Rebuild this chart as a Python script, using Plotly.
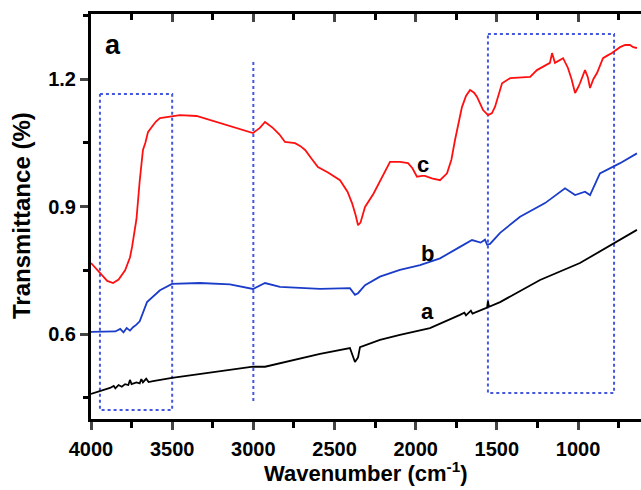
import plotly.graph_objects as go

# Curve c (red)
c_x = [4000, 3950, 3900, 3864, 3830, 3790, 3760, 3747, 3720, 3700, 3690, 3680, 3665, 3649, 3620, 3600,
       3575, 3540, 3501, 3452, 3350, 3205, 3100, 3002, 2960, 2928, 2880, 2840, 2805, 2770, 2743, 2710,
       2681, 2640, 2602, 2540, 2466, 2420, 2392, 2370, 2355, 2340, 2312, 2260, 2220, 2190, 2158, 2097,
       2047, 2020, 1992, 1960, 1943, 1900, 1850, 1807, 1780, 1758, 1740, 1715, 1690, 1665, 1640, 1622,
       1600, 1585, 1554, 1530, 1511, 1490, 1468, 1418, 1370, 1295, 1253, 1200, 1173, 1160, 1142, 1092,
       1062, 1040, 1018, 1000, 988, 957, 940, 926, 905, 883, 846, 820, 791, 741, 710, 680, 660, 637]
c_y = [0.767, 0.745, 0.725, 0.720, 0.728, 0.750, 0.780, 0.805, 0.870, 0.960, 1.000, 1.033, 1.050, 1.075, 1.090, 1.100,
       1.108, 1.110, 1.113, 1.115, 1.113, 1.096, 1.085, 1.073, 1.085, 1.099, 1.085, 1.070, 1.052, 1.050, 1.049, 1.042,
       1.033, 1.012, 0.993, 0.980, 0.962, 0.935, 0.908, 0.880, 0.856, 0.862, 0.899, 0.930, 0.958, 0.980, 1.005, 1.005,
       1.002, 0.990, 0.970, 0.972, 0.972, 0.966, 0.962, 0.978, 1.010, 1.056, 1.090, 1.134, 1.160, 1.174, 1.168, 1.158,
       1.140, 1.127, 1.115, 1.120, 1.135, 1.165, 1.190, 1.202, 1.203, 1.205, 1.221, 1.232, 1.238, 1.261, 1.238, 1.249,
       1.226, 1.200, 1.167, 1.180, 1.190, 1.221, 1.205, 1.179, 1.200, 1.214, 1.249, 1.255, 1.261, 1.275, 1.280, 1.280, 1.275, 1.273]

# Curve b (blue)
b_x = [4000, 3850, 3820, 3800, 3780, 3760, 3741, 3720, 3700, 3680, 3655, 3575, 3501, 3329, 3144, 3002, 2928, 2836,
       2589, 2405, 2374, 2355, 2312, 2220, 2097, 1973, 1850, 1727, 1653, 1600, 1573, 1560, 1542, 1480, 1357, 1203,
       1080, 1018, 957, 926, 865, 741, 637]
b_y = [0.605, 0.606, 0.612, 0.604, 0.614, 0.608, 0.616, 0.622, 0.630, 0.652, 0.675, 0.703, 0.718, 0.720, 0.717, 0.706, 0.720, 0.711,
       0.706, 0.708, 0.692, 0.696, 0.715, 0.735, 0.751, 0.762, 0.778, 0.805, 0.821, 0.815, 0.822, 0.810, 0.812, 0.838, 0.876, 0.908,
       0.943, 0.927, 0.935, 0.927, 0.978, 1.002, 1.025]

# Curve a (black)
a_x = [4000, 3883, 3860, 3850, 3830, 3810, 3790, 3770, 3760, 3750, 3720, 3700, 3690, 3680, 3660, 3645, 3618,
       3501, 3002, 2928, 2589, 2405, 2374, 2355, 2343, 2220, 2097, 1912, 1727, 1700, 1690, 1660, 1650, 1573, 1560,
       1555, 1548, 1480, 1234, 988, 803, 637]
a_y = [0.459, 0.473, 0.478, 0.472, 0.480, 0.476, 0.482, 0.480, 0.492, 0.482, 0.486, 0.484, 0.494, 0.486, 0.495, 0.487, 0.489,
       0.497, 0.523, 0.523, 0.553, 0.567, 0.534, 0.545, 0.569, 0.586, 0.598, 0.614, 0.645, 0.650, 0.644, 0.655, 0.648, 0.661, 0.662,
       0.677, 0.664, 0.675, 0.727, 0.767, 0.809, 0.845]

# Dotted guide boxes / line
box1_x = [3945, 3500, 3500, 3945, 3945]
box1_y = [1.165, 1.165, 0.421, 0.421, 1.165]
vline_x = [3000, 3000]
vline_y = [1.24, 0.438]
box2_x = [1555, 778, 778, 1555, 1555]
box2_y = [1.306, 1.306, 0.461, 0.461, 1.306]

x_range = [4000, 612]
y_range = [0.40, 1.353]
x_ticks = [4000, 3500, 3000, 2500, 2000, 1500, 1000]
y_ticks = [0.6, 0.9, 1.2]

W, H = 641, 490
L, R, T, B = 91, 0, 14, 71
pw, ph = W - L - R, H - T - B

dot_color = "#4457e0"
fig = go.Figure()
for xs, ys in [(box1_x, box1_y), (vline_x, vline_y), (box2_x, box2_y)]:
    fig.add_trace(go.Scatter(x=xs, y=ys, mode="lines",
                             line=dict(color=dot_color, width=2, dash="dot"), hoverinfo="skip"))
fig.add_trace(go.Scatter(x=a_x, y=a_y, mode="lines", line=dict(color="black", width=1.8)))
fig.add_trace(go.Scatter(x=b_x, y=b_y, mode="lines", line=dict(color="#1a3cc8", width=1.8)))
fig.add_trace(go.Scatter(x=c_x, y=c_y, mode="lines", line=dict(color="#ff1010", width=1.8)))

# trace on top axis (no visible marks) so the mirrored top axis is drawn
fig.add_trace(go.Scatter(x=[4000, 612], y=[None, None], xaxis="x2", mode="lines", hoverinfo="skip"))

tickfont = dict(family="Liberation Sans, Arial", size=20, color="black", weight="bold")
fig.update_layout(
    width=W, height=H,
    margin=dict(l=L, r=R, t=T, b=B, autoexpand=False),
    paper_bgcolor="white", plot_bgcolor="white",
    showlegend=False,
    xaxis=dict(range=x_range, tickvals=x_ticks, ticks="outside", ticklen=8, tickwidth=2.5,
               showline=True, linewidth=3, linecolor="black", showgrid=False, zeroline=False,
               tickfont=tickfont, automargin=False, ticklabelstandoff=2,
               minor=dict(dtick=250, tick0=0, ticks="outside", ticklen=6, tickwidth=2.5, tickcolor="black")),
    xaxis2=dict(range=x_range, overlaying="x", side="top", tickvals=x_ticks, ticks="inside", ticklen=8,
                tickwidth=2.5, showline=True, linewidth=3, linecolor="black", showgrid=False,
                zeroline=False, showticklabels=False, automargin=False,
                minor=dict(dtick=250, tick0=0, ticks="inside", ticklen=6, tickwidth=2.5, tickcolor="black")),
    yaxis=dict(range=y_range, tickvals=y_ticks, ticktext=["0.6", "0.9", "1.2"], ticks="outside",
               ticklen=8, tickwidth=2.5, showline=True, linewidth=3, linecolor="black",
               showgrid=False, zeroline=False, tickfont=tickfont, automargin=False,
               minor=dict(dtick=0.15, tick0=0.45, ticks="outside", ticklen=5, tickwidth=2.5, tickcolor="black")),
)

lab = dict(family="Liberation Sans, Arial", color="black")
anns = [
    dict(x=3864, y=1.28, text="<b>a</b>", size=27),
    dict(x=1955, y=0.998, text="<b>c</b>", size=22),
    dict(x=1930, y=0.79, text="<b>b</b>", size=22),
    dict(x=1930, y=0.652, text="<b>a</b>", size=22),
]
for a in anns:
    fig.add_annotation(x=a["x"], y=a["y"], xref="x", yref="y", text=a["text"], showarrow=False,
                       font=dict(size=a["size"], **lab))
fig.add_annotation(x=(366 - L) / pw, y=(H - B - 472) / ph, xref="paper", yref="paper",
                   xanchor="center", yanchor="middle",
                   text="<b>Wavenumber (cm<sup>-1</sup>)</b>", showarrow=False, font=dict(size=22, **lab))
fig.add_annotation(x=(21 - L) / pw, y=(H - B - 216) / ph, xref="paper", yref="paper",
                   xanchor="center", yanchor="middle",
                   text="<b>Transmittance (%)</b>", textangle=-90, showarrow=False, font=dict(size=24, **lab))

fig.write_html("out.html", config={"displayModeBar": False},
               post_script="document.body.style.margin='0';document.body.style.overflow='hidden';")
